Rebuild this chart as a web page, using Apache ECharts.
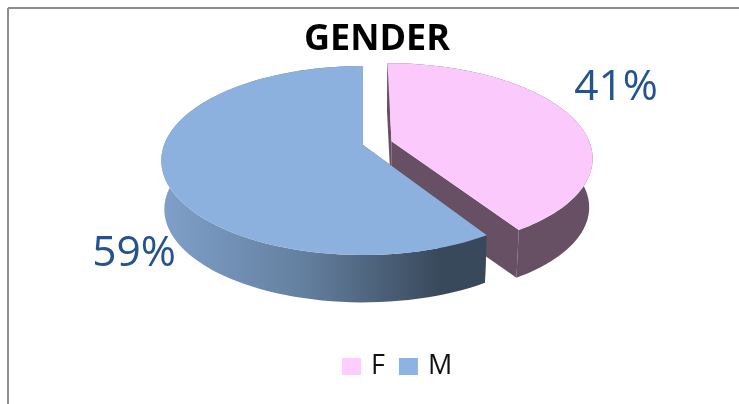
<!DOCTYPE html>
<html>
<head>
<meta charset="utf-8">
<style>
html, body { margin: 0; padding: 0; background: #fff; }
#chart { width: 739px; height: 404px; }
</style>
<script src="https://cdn.jsdelivr.net/npm/echarts@6/dist/echarts.min.js"></script>
</head>
<body>
<div id="chart"></div>
<script>
let categories = ['F', 'M']
let values = [41, 59]
let topColors = ['#fcc9fc', '#8cb1de']
let legendColors = ['#ffccff', '#8db3e2']

let total = values.reduce((a, b) => a + b, 0)

// perspective pie, worked out from the top face in the picture
let cx = 363, cy = 145, rx = 199, ry = 92, persp = 0.164
let depth = 49, shrink = 0.985
// how far each slice is pulled out, in pie radii
let explode = [0.15, 0]
let labelPos = [[616, 88], [134, 254]]
let wallFill = [
    '#675064',
    {
        type: 'linear', x: 165, y: 0, x2: 440, y2: 0, global: true,
        colorStops: [
            { offset: 0, color: '#7f9fc9' },
            { offset: 0.5, color: '#64809f' },
            { offset: 1, color: '#39495c' }
        ]
    }
]

function project(u, v, low) {
    let w = 1 + persp * v
    let x = rx * u / w
    let y = -ry * v / w
    if (low) {
        return [cx + x * shrink, cy + y * shrink + depth]
    }
    return [cx + x, cy + y]
}

function renderSlice(idx) {
    return function (params, api) {
        let value = api.value(0)
        let before = values.slice(0, idx).reduce((a, b) => a + b, 0)
        let a0 = before / total * Math.PI * 2
        let a1 = a0 + value / total * Math.PI * 2
        let mid = (a0 + a1) / 2
        let ox = explode[idx] * Math.sin(mid)
        let oy = explode[idx] * Math.cos(mid)

        let rim = []
        let n = 90
        for (let i = 0; i <= n; i++) {
            let a = a0 + (a1 - a0) * i / n
            rim.push([ox + Math.sin(a), oy + Math.cos(a)])
        }
        let top = rim.map(p => project(p[0], p[1], false))
        let low = rim.map(p => project(p[0], p[1], true))
        let apexTop = project(ox, oy, false)
        let apexLow = project(ox, oy, true)
        let last = rim.length - 1

        let children = [
            // cut faces
            { type: 'polygon', shape: { points: [apexTop, top[0], low[0], apexLow] }, style: { fill: '#675064' } },
            { type: 'polygon', shape: { points: [apexTop, top[last], low[last], apexLow] }, style: { fill: idx === 0 ? '#675064' : '#39495c' } },
            // outer wall
            { type: 'polygon', shape: { points: top.concat(low.slice().reverse()) }, style: { fill: wallFill[idx] } },
            // top
            { type: 'polygon', shape: { points: [apexTop].concat(top) }, style: { fill: topColors[idx] } },
            {
                type: 'text',
                style: {
                    text: value + '%',
                    x: labelPos[idx][0],
                    y: labelPos[idx][1],
                    align: 'center',
                    verticalAlign: 'middle',
                    font: '42.5px "Open Sans"',
                    fill: '#245390'
                }
            }
        ]
        return { type: 'group', children: children }
    }
}

let Chart = echarts.init(document.getElementById('chart'))
let option = {
    animation: false,
    title: {
        text: 'GENDER',
        left: 377,
        top: 17,
        textAlign: 'center',
        textStyle: { fontFamily: 'Open Sans', fontWeight: 'bold', fontSize: 36, color: '#000' }
    },
    legend: {
        data: categories,
        left: 337,
        top: 348,
        icon: 'rect',
        itemWidth: 19,
        itemHeight: 17,
        itemGap: 14,
        textStyle: { fontFamily: 'Open Sans', fontSize: 27, color: '#111', padding: [0, 0, 0, 5] }
    },
    graphic: [
        { type: 'line', shape: { x1: 8, y1: 8, x2: 739, y2: 8 }, style: { stroke: '#8c8c8c', lineWidth: 2 } },
        { type: 'line', shape: { x1: 8, y1: 8, x2: 8, y2: 404 }, style: { stroke: '#8c8c8c', lineWidth: 2 } }
    ],
    series: categories.map((name, i) => ({
        type: 'custom',
        name: name,
        coordinateSystem: 'none',
        itemStyle: { color: legendColors[i] },
        renderItem: renderSlice(i),
        data: [[values[i]]]
    }))
}
option.title.left = 372
Chart.setOption(option)
</script>
</body>
</html>
